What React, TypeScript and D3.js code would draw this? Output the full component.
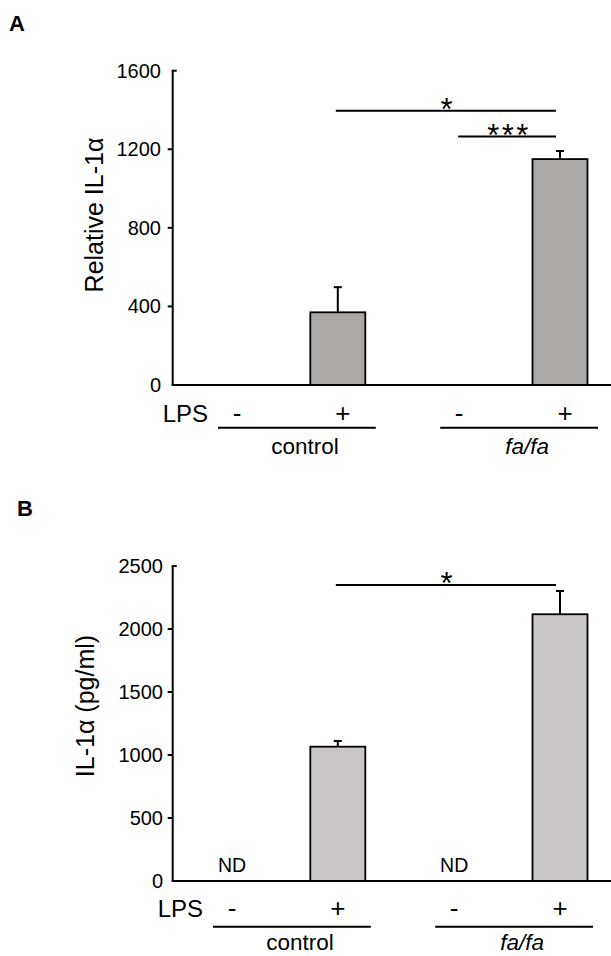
import React from "react";
import * as d3 from "d3";

// conditions, left to right
const lpsSigns = ["-", "+", "-", "+"];
const groupNames = ["control", "fa/fa"];
const groupItalic = [false, true];

// panel A: relative IL-1a (no bar drawn for the LPS- conditions)
const aValues = [null, 370, null, 1150];
const aErrors = [null, 128, null, 41];
const aTicks = [0, 400, 800, 1200, 1600];
const aSig = [
  { from: 1, to: 3, value: 1396, label: "*" },
  { from: 2, to: 3, value: 1265, label: "***" },
];

// panel B: IL-1a in pg/ml, ND = not detected
const bValues = [null, 1066, null, 2117];
const bErrors = [null, 45, null, 185];
const bTicks = [0, 500, 1000, 1500, 2000, 2500];
const bSig = [{ from: 1, to: 3, value: 2349, label: "*" }];

const font = "'Liberation Sans', Arial, sans-serif";
const slots = [0, 1, 2.1, 3.1];

const Panel = ({
  letter,
  letterPos,
  title,
  titleX,
  titleY,
  titleSize,
  values,
  errors,
  ticks,
  sig,
  yRange,
  tickLabelX,
  fill,
  nd,
  bottom,
}) => {
  const xScale = d3.scaleLinear().domain([0, 3.1]).range([232, 560]);
  const yScale = d3
    .scaleLinear()
    .domain([0, d3.max(ticks)])
    .range(yRange);
  const axisX = 172.7;
  const barWidth = 55;
  const y0 = yScale(0);
  const top = ticks[ticks.length - 1];

  return (
    <g fontFamily={font} fill="#000">
      <text x={letterPos[0]} y={letterPos[1]} fontSize={22} fontWeight="bold">
        {letter}
      </text>

      {/* y axis */}
      <line x1={axisX} y1={y0} x2={axisX} y2={yScale(top)} stroke="#000" strokeWidth={2} />
      {ticks.map((t, i) => (
        <g key={i} transform={`translate(0,${yScale(t)})`}>
          {t === top ? (
            <line x1={axisX - 1} x2={axisX + 4} stroke="#000" strokeWidth={2} />
          ) : t !== 0 ? (
            <line x1={axisX - 5} x2={axisX} stroke="#000" strokeWidth={2} />
          ) : null}
          <text x={tickLabelX} dy="0.35em" textAnchor="end" fontSize={20}>
            {t}
          </text>
        </g>
      ))}
      <text
        transform={`translate(${titleX},${titleY}) rotate(-90)`}
        textAnchor="middle"
        fontSize={titleSize}
      >
        {title}
      </text>

      {/* bars with error bars */}
      {values.map((v, i) => {
        if (v === null) return null;
        const cx = xScale(slots[i]);
        const yTop = yScale(v);
        const yErr = yScale(v + errors[i]);
        return (
          <g key={i}>
            <line x1={cx} x2={cx} y1={yTop} y2={yErr} stroke="#000" strokeWidth={2} />
            <line x1={cx - 4} x2={cx + 4} y1={yErr} y2={yErr} stroke="#000" strokeWidth={2} />
            <rect
              x={cx - barWidth / 2}
              y={yTop}
              width={barWidth}
              height={y0 - yTop}
              fill={fill}
              stroke="#000"
              strokeWidth={1.8}
            />
          </g>
        );
      })}
      {nd &&
        values.map((v, i) =>
          v === null ? (
            <text key={i} x={xScale(slots[i])} y={y0 - 9} textAnchor="middle" fontSize={19.5}>
              ND
            </text>
          ) : null
        )}

      {/* x axis */}
      <line x1={axisX - 1} x2={611} y1={y0} y2={y0} stroke="#000" strokeWidth={2} />

      {/* significance */}
      {sig.map((s, i) => {
        const x1 = xScale(slots[s.from]) + (s.from === 1 ? -2 : 4);
        const x2 = xScale(slots[s.to]) - 4;
        const y = yScale(s.value);
        return (
          <g key={i}>
            <line x1={x1} x2={x2} y1={y} y2={y} stroke="#000" strokeWidth={2} />
            <text
              x={(x1 + x2) / 2 + 2}
              y={y + 9}
              textAnchor="middle"
              fontSize={31}
              letterSpacing={2.5}
            >
              {s.label}
            </text>
          </g>
        );
      })}

      {/* LPS row and group labels */}
      <g transform={`translate(${bottom.dx},0)`}>
        <text x={xScale(slots[0]) - 29} y={y0 + bottom.lps} textAnchor="end" fontSize={24}>
          LPS
        </text>
        {lpsSigns.map((s, i) => (
          <text
            key={i}
            x={xScale(slots[i])}
            y={y0 + bottom.lps}
            textAnchor="middle"
            fontSize={26}
          >
            {s}
          </text>
        ))}
        {groupNames.map((g, gi) => {
          const left = xScale(slots[gi * 2]) - 19;
          const right = xScale(slots[gi * 2 + 1]) + 33;
          return (
            <g key={gi}>
              <line
                x1={left}
                x2={right}
                y1={y0 + bottom.line}
                y2={y0 + bottom.line}
                stroke="#000"
                strokeWidth={2}
              />
              <text
                x={(left + right) / 2 + 8}
                y={y0 + bottom.group}
                textAnchor="middle"
                fontSize={22.5}
                fontStyle={groupItalic[gi] ? "italic" : "normal"}
              >
                {g}
              </text>
            </g>
          );
        })}
      </g>
    </g>
  );
};

export default function App() {
  return (
    <svg
      width={611}
      height={956}
      style={{ position: "absolute", left: 0, top: 0, background: "#fff" }}
    >
      <Panel
        letter="A"
        letterPos={[9, 31]}
        title="Relative IL-1α"
        titleX={103}
        titleY={215}
        titleSize={25}
        values={aValues}
        errors={aErrors}
        ticks={aTicks}
        sig={aSig}
        yRange={[385, 70.7]}
        tickLabelX={161}
        fill="#aba8a6"
        nd={false}
        bottom={{ dx: 5, lps: 37, line: 42.7, group: 69.3 }}
      />
      <Panel
        letter="B"
        letterPos={[17, 515.7]}
        title="IL-1α (pg/ml)"
        titleX={94}
        titleY={706}
        titleSize={25}
        values={bValues}
        errors={bErrors}
        ticks={bTicks}
        sig={bSig}
        yRange={[881, 566]}
        tickLabelX={163}
        fill="#c9c6c5"
        nd={true}
        bottom={{ dx: 0, lps: 36, line: 45.7, group: 68.5 }}
      />
    </svg>
  );
}
